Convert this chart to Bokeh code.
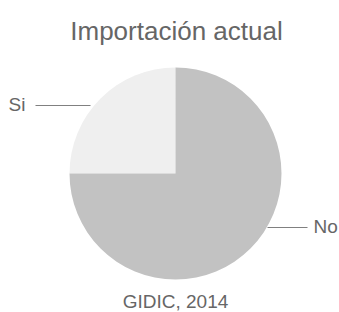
import math
from bokeh.plotting import figure
from bokeh.models import Range1d, ColumnDataSource
from bokeh.core.properties import value
from bokeh.embed import file_html
from bokeh.resources import INLINE

title_text = "Importación actual"
source_text = "GIDIC, 2014"
categories = ["Si", "No"]
values = [25, 75]
colors = ["#efefef", "#c2c2c2"]

W, H = 339, 312
p = figure(width=W, height=H, output_backend="svg", toolbar_location=None,
           x_range=Range1d(0, W), y_range=Range1d(0, H),
           min_border=0, outline_line_color=None, background_fill_color="white",
           border_fill_color="white")
p.axis.visible = False
p.grid.visible = False

cx, cy, r = 175, H - 173, 106
total = sum(values)
starts, ends = [], []
a = math.pi / 2
for v in values:
    starts.append(a)
    a += 2 * math.pi * v / total
    ends.append(a)

src = ColumnDataSource(dict(cat=categories, start=starts, end=ends, color=colors))
p.wedge(x=cx, y=cy, radius=r, start_angle="start", end_angle="end",
        fill_color="color", line_color=None, source=src)

font = value("Liberation Sans")
# title
p.text(x=[176], y=[H - 30], text=[title_text], text_font=font, text_font_size="26px",
       text_color="#666666", text_align="center", text_baseline="middle")
# source
p.text(x=[175], y=[H - 301], text=[source_text], text_font=font, text_font_size="19px",
       text_color="#666666", text_align="center", text_baseline="middle")

# label leader lines
p.segment(x0=[35, 267], y0=[H - 105, H - 227], x1=[90, 307], y1=[H - 105, H - 227],
          line_color="#808080", line_width=1.2)
p.text(x=[8, 313], y=[H - 104, H - 226], text=categories, text_font=font,
       text_font_size="19px", text_color="#666666", text_align="left", text_baseline="middle")

open("out.html", "w").write(file_html(p, INLINE))
